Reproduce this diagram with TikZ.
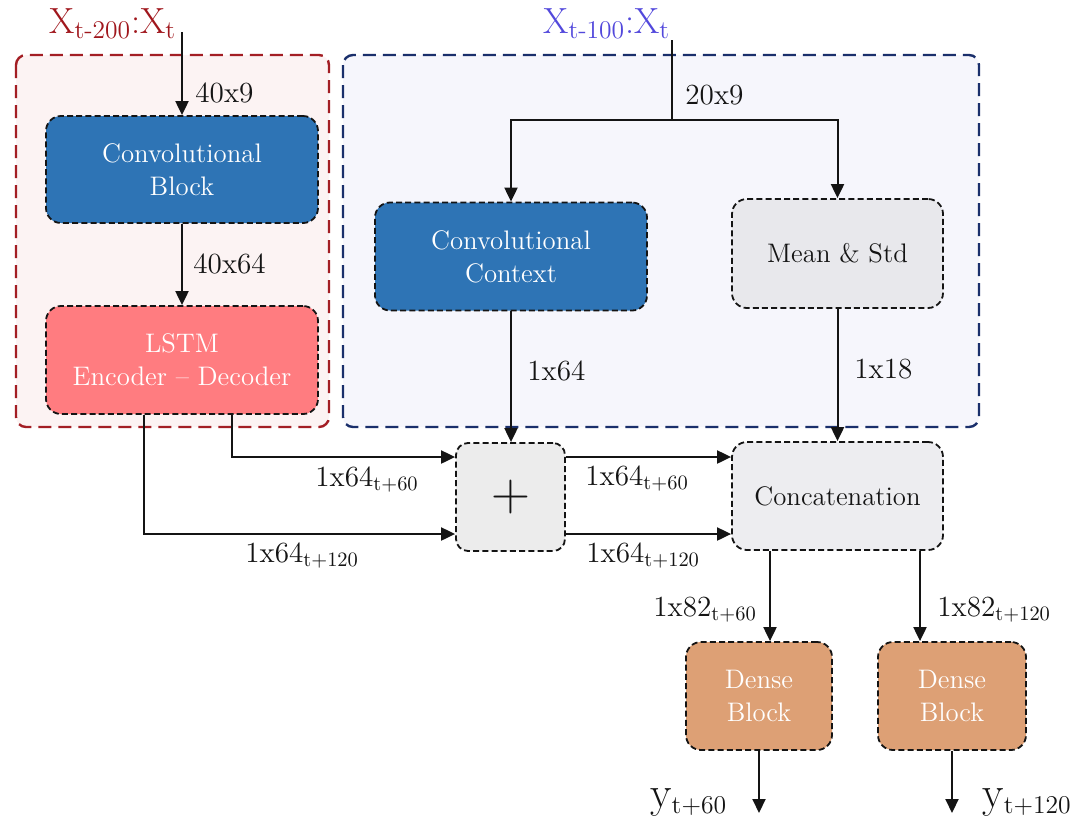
\documentclass[tikz,border=0pt]{standalone}
\usetikzlibrary{arrows.meta}
\definecolor{convblue}{RGB}{46,116,181}
\definecolor{lstmred}{RGB}{255,124,128}
\definecolor{densebrown}{RGB}{221,160,117}
\definecolor{meangray}{RGB}{232,232,236}
\definecolor{plusgray}{RGB}{236,236,236}
\definecolor{concatgray}{RGB}{237,237,240}
\definecolor{redgrpfill}{RGB}{252,243,243}
\definecolor{bluegrpfill}{RGB}{246,246,252}
\definecolor{redgrpline}{RGB}{163,30,36}
\definecolor{bluegrpline}{RGB}{26,47,107}
\definecolor{redtitle}{RGB}{160,22,28}
\definecolor{bluetitle}{RGB}{82,72,220}
\definecolor{inkc}{RGB}{20,20,20}
\newcommand\boxfnt{\fontsize{13.4}{16.5}\selectfont}
\newcommand\lblfnt{\fontsize{14.6}{17}\selectfont}
\newcommand\ttlfnt{\fontsize{18.2}{21}\selectfont}
\newcommand\outfnt{\fontsize{22}{24}\selectfont}
\newcommand\outsub[1]{\textsubscript{\fontsize{12.8}{14}\selectfont #1}}
\tikzset{
  blk/.style={draw=inkc, line width=0.9pt, dash pattern=on 3pt off 1.6pt,
    rounded corners=7.5pt, align=center, inner sep=2pt, font=\boxfnt},
  grp/.style={line width=1.2pt, dash pattern=on 6.5pt off 3.5pt, rounded corners=5pt},
  arr/.style={draw=inkc, line width=1pt, -{Triangle[length=7pt,width=6.5pt]}},
  ln/.style={draw=inkc, line width=1pt},
  lbl/.style={inner sep=0pt, anchor=base west, font=\lblfnt, text=inkc},
}
\begin{document}
\begin{tikzpicture}[x=0.5pt,y=-0.5pt]
\fill[white] (0,0) rectangle (1092,820);
\useasboundingbox (0,0) rectangle (1092,820);

% group boxes
\draw[grp, draw=redgrpline, fill=redgrpfill] (16,55) rectangle (329,427);
\draw[grp, draw=bluegrpline, fill=bluegrpfill] (343,55) rectangle (979,427);

% titles
\node[inner sep=0pt, anchor=base west, font=\ttlfnt, text=redtitle] (t1) at (49,33) {X\textsubscript{t-200}:X\textsubscript{t}};
\node[inner sep=0pt, anchor=base west, font=\ttlfnt, text=bluetitle] (t2) at (543,33) {X\textsubscript{t-100}:X\textsubscript{t}};
\coordinate (in1) at (182,32);
\coordinate (in2) at (672,40);
\coordinate (br) at (672,120);

% blocks
\node[blk, fill=convblue, text=white, minimum width=136pt, minimum height=53.5pt] (conv) at (182,169.5) {Convolutional\\Block};
\node[blk, fill=lstmred, text=white, minimum width=136pt, minimum height=54pt] (lstm) at (182,360) {LSTM\\Encoder -- Decoder};
\node[blk, fill=convblue, text=white, minimum width=136pt, minimum height=54pt] (ctx) at (511,256.5) {Convolutional\\Context};
\node[blk, fill=meangray, text=inkc, minimum width=105.5pt, minimum height=54.5pt] (mean) at (837.5,253.5) {Mean \& Std};
\node[blk, fill=plusgray, text=inkc, minimum width=54.5pt, minimum height=54pt, rounded corners=6pt, font=\fontsize{27}{30}\selectfont] (plus) at (510.5,497) {+};
\node[blk, fill=concatgray, text=inkc, minimum width=105.5pt, minimum height=54pt] (concat) at (837.5,496) {Concatenation};
\node[blk, fill=densebrown, text=white, minimum width=73pt, minimum height=54pt] (dense1) at (759,696) {Dense\\Block};
\node[blk, fill=densebrown, text=white, minimum width=74pt, minimum height=54pt] (dense2) at (952,696) {Dense\\Block};

\coordinate (o1) at (759,813);
\coordinate (o2) at (952,813);

% connectors
\draw[arr] (in1) -- (conv.north);
\draw[arr] (conv.south) -- (lstm.north);
\draw[ln] (in2) -- (br);
\draw[arr] (br) -| (ctx.north);
\draw[arr] (br) -| (mean.north);
\draw[arr] (ctx.south) -- (ctx.south |- plus.north);
\draw[arr] (mean.south) -- (concat.north);
\draw[arr] (lstm.south -| 232,0) |- (plus.west |- 0,457);
\draw[arr] (lstm.south -| 144,0) |- (plus.west |- 0,534);
\draw[arr] (plus.east |- 0,457) -- (concat.west |- 0,457);
\draw[arr] (plus.east |- 0,534) -- (concat.west |- 0,534);
\draw[arr] (concat.south -| 770,0) -- (dense1.north -| 770,0);
\draw[arr] (concat.south -| 920,0) -- (dense2.north -| 920,0);
\draw[arr] (dense1.south) -- (o1);
\draw[arr] (dense2.south) -- (o2);

% labels
\node[lbl] (l1) at (195,102) {40x9};
\node[lbl] (l2) at (193,273) {40x64};
\node[lbl] (l3) at (685,104) {20x9};
\node[lbl] (l4) at (527,380) {1x64};
\node[lbl] (l5) at (854,378) {1x18};
\node[lbl] (l6) at (315,486) {1x64\textsubscript{t+60}};
\node[lbl] (l7) at (245,562) {1x64\textsubscript{t+120}};
\node[lbl] (l8) at (585,485) {1x64\textsubscript{t+60}};
\node[lbl] (l9) at (586,562) {1x64\textsubscript{t+120}};
\node[lbl] (l10) at (653,616) {1x82\textsubscript{t+60}};
\node[lbl] (l11) at (937,616) {1x82\textsubscript{t+120}};
\node[inner sep=0pt, anchor=base west, font=\outfnt, text=inkc] (y1) at (650,807) {y\outsub{t+60}};
\node[inner sep=0pt, anchor=base west, font=\outfnt, text=inkc] (y2) at (982,807) {y\outsub{t+120}};
\end{tikzpicture}
\end{document}
